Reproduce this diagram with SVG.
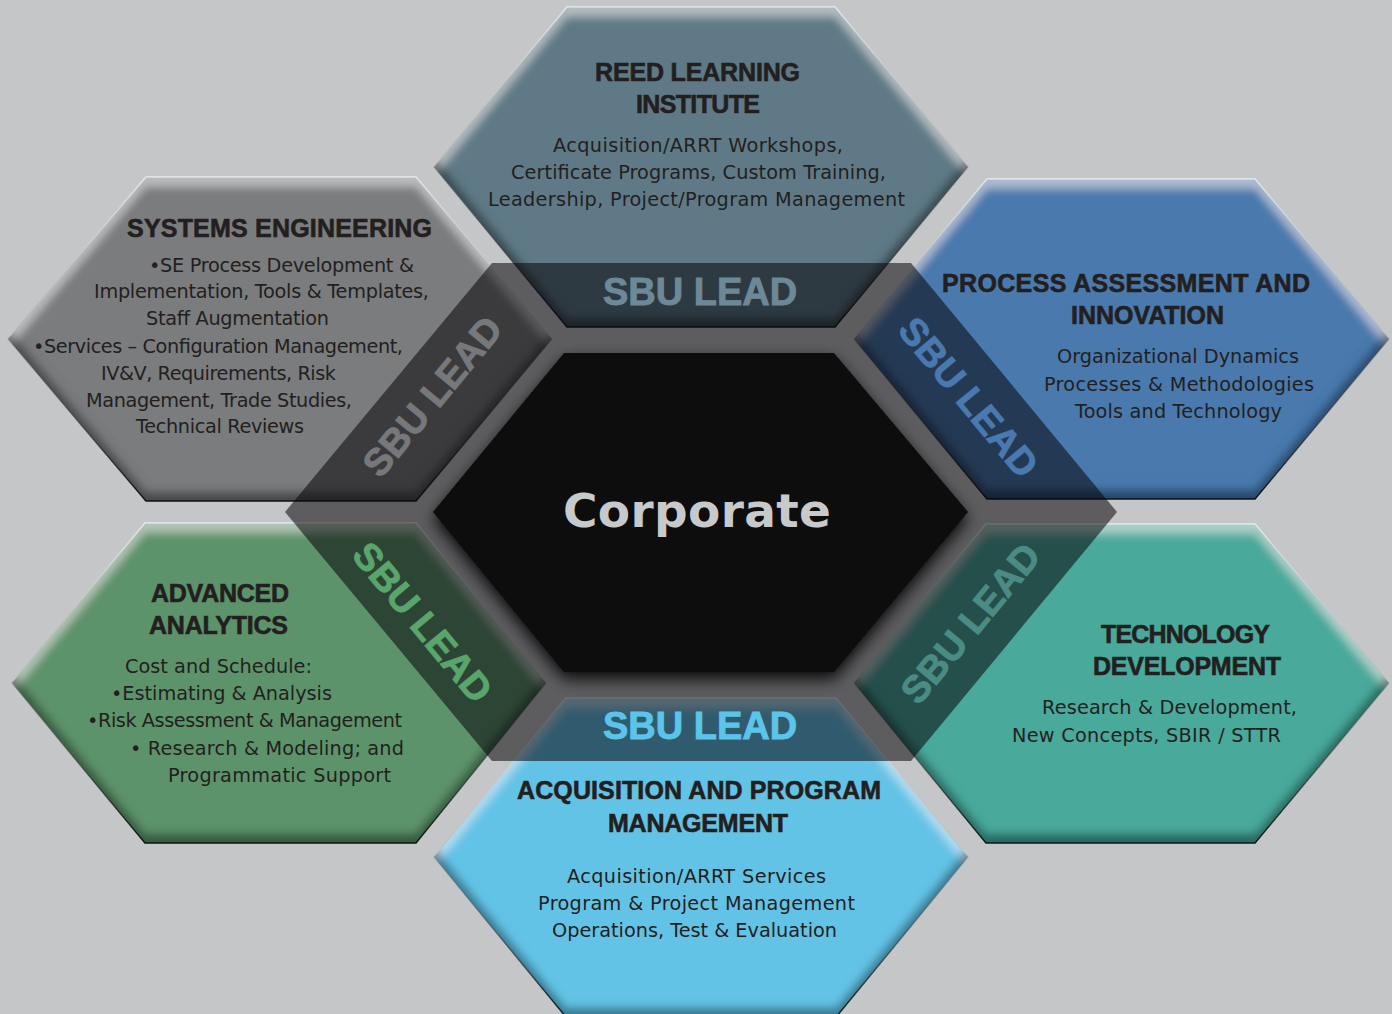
<svg xmlns="http://www.w3.org/2000/svg" width="1392" height="1014" viewBox="0 0 1392 1014">
<defs>
<style>
.h{font-family:"Liberation Sans",Arial,sans-serif;font-weight:bold;font-size:25px;fill:#231f20;stroke:#231f20;stroke-width:0.6px}
.b{font-family:"DejaVu Sans","Liberation Sans",sans-serif;font-size:19.3px;fill:#231f20}
.sbu{font-family:"Liberation Sans",Arial,sans-serif;font-weight:bold;font-size:38px;text-anchor:middle;stroke-width:0.9px}
.corp{font-family:"DejaVu Sans","Liberation Sans",sans-serif;font-weight:bold;font-size:47px;fill:#c8c9cb;text-anchor:middle}
.hex{filter:url(#bevel);stroke:url(#edge);stroke-width:1.5px}
</style>
<linearGradient id="edge" x1="0" y1="0" x2="0" y2="1">
<stop offset="0" stop-color="#e8f4f8" stop-opacity="0.7"/>
<stop offset="0.5" stop-color="#808080" stop-opacity="0.2"/>
<stop offset="1" stop-color="#000000" stop-opacity="0.7"/>
</linearGradient>
<filter id="bevel" x="-5%" y="-5%" width="110%" height="110%">
<feGaussianBlur in="SourceAlpha" stdDeviation="4" result="b"/>
<feOffset in="b" dy="10" result="bd"/>
<feComposite in="SourceAlpha" in2="bd" operator="arithmetic" k2="1" k3="-1" result="top"/>
<feFlood flood-color="#ffffff" flood-opacity="0.38"/>
<feComposite in2="top" operator="in" result="hl"/>
<feOffset in="b" dy="-10" result="bu"/>
<feComposite in="SourceAlpha" in2="bu" operator="arithmetic" k2="1" k3="-1" result="bot"/>
<feFlood flood-color="#000000" flood-opacity="0.65"/>
<feComposite in2="bot" operator="in" result="sh"/>
<feMerge><feMergeNode in="SourceGraphic"/><feMergeNode in="hl"/><feMergeNode in="sh"/></feMerge>
</filter>
<filter id="shadow" x="-20%" y="-20%" width="140%" height="140%">
<feGaussianBlur in="SourceAlpha" stdDeviation="8"/>
<feOffset dy="7" result="o"/>
<feFlood flood-color="#000000" flood-opacity="0.9"/>
<feComposite in2="o" operator="in"/>
<feMerge><feMergeNode/><feMergeNode in="SourceGraphic"/></feMerge>
</filter>
</defs>
<rect width="1392" height="1014" fill="#c5c6c8"/>

<g id="reed-learning-institute">
<polygon class="hex" points="434,167 567,7 835,7 968,167 835,327 567,327" fill="#5f7a86"/>
</g>
<g id="systems-engineering">
<polygon class="hex" points="8,339 146,177 416,177 552,339 416,501 146,501" fill="#7a7b7e"/>
</g>
<g id="process-assessment">
<polygon class="hex" points="854,339 987,179 1255,179 1389,339 1255,499 987,499" fill="#4a79ad"/>
</g>
<g id="advanced-analytics">
<polygon class="hex" points="12,683 145,523 416,523 546,683 416,843 145,843" fill="#5d936b"/>
</g>
<g id="technology-development">
<polygon class="hex" points="854,683 986,524 1255,524 1389,683 1255,843 986,843" fill="#4aa99b"/>
</g>
<g id="acquisition-program-management">
<polygon class="hex" points="434,857 566,698 836,698 968,857 836,1017 566,1017" fill="#63c3e6"/>
</g>

<g id="sbu-lead-ring">
<polygon points="285,512 492,263 911,263 1117,512 911,761 492,761" fill="#050307" fill-opacity="0.54"/>
<text class="sbu" x="700" y="305" fill="#6d8998" stroke="#6d8998">SBU LEAD</text>
<text class="sbu" x="700" y="739" fill="#5cc4e9" stroke="#5cc4e9">SBU LEAD</text>
<text class="sbu" transform="translate(432,396) rotate(-50.4)" x="0" y="13.6" fill="#77787b" stroke="#77787b">SBU LEAD</text>
<text class="sbu" transform="translate(969,397) rotate(50.4)" x="0" y="13.6" fill="#4a79b0" stroke="#4a79b0">SBU LEAD</text>
<text class="sbu" transform="translate(423,622) rotate(50.4)" x="0" y="13.6" fill="#5aa56b" stroke="#5aa56b">SBU LEAD</text>
<text class="sbu" transform="translate(970,623) rotate(-50.4)" x="0" y="13.6" fill="#4a8c83" stroke="#4a8c83">SBU LEAD</text>
</g>

<g id="corporate">
<polygon points="433,512 564,353 834,353 968,512 834,672 564,672" fill="#0b0a0c" filter="url(#shadow)"/>
<text class="corp" x="697" y="527" textLength="268">Corporate</text>
</g>

<g id="reed-text">
<text class="h" x="595" y="81" textLength="205">REED LEARNING</text>
<text class="h" x="636" y="113" textLength="124">INSTITUTE</text>
<text class="b" x="553" y="152" textLength="290">Acquisition/ARRT Workshops,</text>
<text class="b" x="511" y="179" textLength="375">Certificate Programs, Custom Training,</text>
<text class="b" x="488" y="206" textLength="417">Leadership, Project/Program Management</text>
</g>
<g id="se-text">
<text class="h" x="127" y="237" textLength="305">SYSTEMS ENGINEERING</text>
<text class="b" x="149" y="272" textLength="265">•SE Process Development &amp;</text>
<text class="b" x="94" y="298" textLength="335">Implementation, Tools &amp; Templates,</text>
<text class="b" x="146" y="325" textLength="183">Staff Augmentation</text>
<text class="b" x="33" y="353" textLength="370">•Services – Configuration Management,</text>
<text class="b" x="101" y="380" textLength="235">IV&amp;V, Requirements, Risk</text>
<text class="b" x="86" y="407" textLength="266">Management, Trade Studies,</text>
<text class="b" x="136" y="433" textLength="168">Technical Reviews</text>
</g>
<g id="pai-text">
<text class="h" x="942" y="292" textLength="368">PROCESS ASSESSMENT AND</text>
<text class="h" x="1071" y="324" textLength="153">INNOVATION</text>
<text class="b" x="1057" y="363" textLength="242">Organizational Dynamics</text>
<text class="b" x="1044" y="391" textLength="270">Processes &amp; Methodologies</text>
<text class="b" x="1075" y="418" textLength="207">Tools and Technology</text>
</g>
<g id="aa-text">
<text class="h" x="151" y="602" textLength="138">ADVANCED</text>
<text class="h" x="149" y="634" textLength="139">ANALYTICS</text>
<text class="b" x="125" y="673" textLength="187">Cost and Schedule:</text>
<text class="b" x="111" y="700" textLength="221">•Estimating &amp; Analysis</text>
<text class="b" x="87" y="727" textLength="315">•Risk Assessment &amp; Management</text>
<text class="b" x="130" y="755" textLength="274">• Research &amp; Modeling; and</text>
<text class="b" x="168" y="782" textLength="223">Programmatic Support</text>
</g>
<g id="td-text">
<text class="h" x="1101" y="643" textLength="169">TECHNOLOGY</text>
<text class="h" x="1093" y="675" textLength="188">DEVELOPMENT</text>
<text class="b" x="1042" y="714" textLength="255">Research &amp; Development,</text>
<text class="b" x="1012" y="742" textLength="269">New Concepts, SBIR / STTR</text>
</g>
<g id="apm-text">
<text class="h" x="517" y="799" textLength="364">ACQUISITION AND PROGRAM</text>
<text class="h" x="608" y="832" textLength="180">MANAGEMENT</text>
<text class="b" x="567" y="883" textLength="259">Acquisition/ARRT Services</text>
<text class="b" x="538" y="910" textLength="317">Program &amp; Project Management</text>
<text class="b" x="552" y="937" textLength="285">Operations, Test &amp; Evaluation</text>
</g>
<g id="connectors"/>
</svg>
